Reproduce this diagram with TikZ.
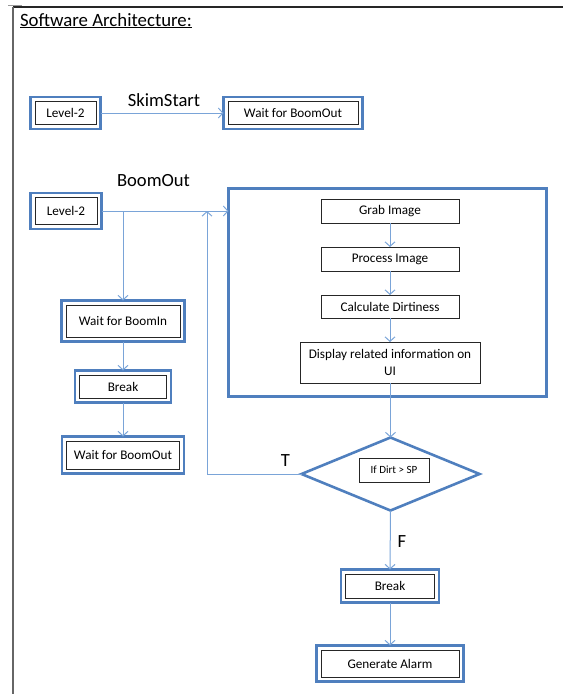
\documentclass[tikz,border=0pt]{standalone}
\usepackage{fontspec}
\setmainfont{Carlito}
\usetikzlibrary{arrows.meta,shapes.geometric}
\definecolor{boxblue}{HTML}{4F7FBE}
\definecolor{linkblue}{HTML}{7AA4D8}
\begin{document}
\begin{tikzpicture}[x=1pt,y=-1pt,
  every node/.style={inner sep=0pt, outer sep=0pt, font=\fontsize{13.2}{15.5}\selectfont},
  dbox/.style={draw=boxblue, line width=2.6pt,
    path picture={\draw[black!85,line width=0.9pt]
      ([shift={(4.5pt,-4.5pt)}]path picture bounding box.north west) rectangle
      ([shift={(-4.5pt,4.5pt)}]path picture bounding box.south east);}},
  sbox/.style={draw=black!85, line width=0.9pt},
  bigbox/.style={draw=boxblue, line width=2.6pt},
  lbl/.style={font=\fontsize{18.6}{21}\selectfont, anchor=base},
  conn/.style={draw=linkblue, line width=1pt},
  arr/.style={conn, -{Straight Barb[length=4.5pt,width=10pt]}}
]
\useasboundingbox (0,0) rectangle (563,694);
% page frame
\draw[black!85, line width=1.6pt] (13,7) -- (563,7);
\draw[black!60, line width=1.6pt] (13,7) -- (13,694);
\draw[black!40, line width=0.8pt] (8,5.5) -- (22,5.5);

\node[anchor=base west, font=\fontsize{18.8}{21}\selectfont] (title) at (20,26) {\underline{Software Architecture:}};

% top row
\node[dbox, minimum width=70pt, minimum height=32pt] (lvA) at (65.5,113) {Level-2};
\node[dbox, minimum width=139pt, minimum height=32pt] (wboA) at (293,113) {Wait for BoomOut};
\draw[arr] (lvA) -- (wboA);
\node[lbl] (skim) at (164,106) {SkimStart};

% second row
\node[lbl] (boomout) at (153.5,186) {BoomOut};
\node[dbox, minimum width=71pt, minimum height=36pt] (lvB) at (66,211) {Level-2};

\node[dbox, minimum width=123pt, minimum height=41pt] (wbi) at (123,321) {Wait for BoomIn};
\node[dbox, minimum width=96pt, minimum height=32pt] (brkL) at (123,386.5) {Break};
\node[dbox, minimum width=122pt, minimum height=37pt] (wboB) at (123,455) {Wait for BoomOut};

\node[bigbox, minimum width=318pt, minimum height=208pt] (big) at (387.5,292.5) {};
\node[sbox, minimum width=138pt, minimum height=24pt] (grab) at (390,211) {Grab Image};
\node[sbox, minimum width=138pt, minimum height=24pt] (proc) at (390,259) {Process Image};
\node[sbox, minimum width=138pt, minimum height=23pt] (calc) at (390,306.5) {Calculate Dirtiness};
\node[sbox, minimum width=180pt, minimum height=41pt, align=center] (disp) at (390,362.5) {Display related information on\\[1pt]UI};

\node[diamond, draw=boxblue, line width=2.6pt, minimum width=178pt, minimum height=73pt] (dia) at (390.5,474) {};
\node[sbox, minimum width=70pt, minimum height=24pt, font=\fontsize{11}{12}\selectfont] (ifb) at (394,470) {If Dirt > SP};

\node[dbox, minimum width=98pt, minimum height=33pt] (brkR) at (390,586) {Break};
\node[dbox, minimum width=147pt, minimum height=36pt] (alarm) at (390,663.5) {Generate Alarm};

\node[lbl] (tl) at (285.5,466) {T};
\node[lbl] (fl) at (402,547) {F};

% connectors
\coordinate (lp) at (207,211);
\draw[arr] (lvB.east) -- (lvB.east -| big.west);
\draw[arr] (lvB.east -| wbi.north) -- (wbi.north);
\draw[arr] (wbi.south) -- (brkL.north);
\draw[arr] (brkL.south) -- (wboB.north);
\draw[arr] (grab.south) -- (proc.north);
\draw[arr] (proc.south) -- (calc.north);
\draw[arr] (calc.south) -- (disp.north);
\draw[conn] (disp.south) -- (disp.south |- big.south);
\draw[arr] (big.south -| dia.north) -- (dia.north);
\draw[arr] (dia.west) -| (lp);
\draw[arr] (dia.south) -- (brkR.north);
\draw[arr] (brkR.south) -- (alarm.north);
\end{tikzpicture}
\end{document}
